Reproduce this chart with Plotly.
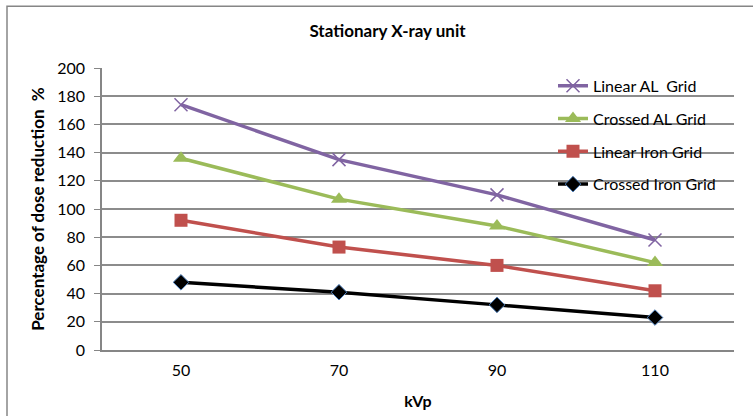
import plotly.graph_objects as go

kvp = ["50", "70", "90", "110"]
linear_al = [174, 135, 110, 78]
crossed_al = [136, 107, 88, 62]
linear_iron = [92, 73, 60, 42]
crossed_iron = [48, 41, 32, 23]
y_ticks = [0, 20, 40, 60, 80, 100, 120, 140, 160, 180, 200]

FONT = "Lato, Carlito, Liberation Sans, sans-serif"

series = [
    ("Linear AL  Grid", linear_al, "#8064A2", dict(symbol="x-thin", size=13, line=dict(color="#8064A2", width=1.5))),
    ("Crossed AL Grid", crossed_al, "#9BBB59", dict(symbol="triangle-up", size=14, color="#9BBB59")),
    ("Linear Iron Grid", linear_iron, "#C0504D", dict(symbol="square", size=13, color="#C0504D")),
    ("Crossed Iron Grid", crossed_iron, "#000000", dict(symbol="diamond", size=12, color="#000000", line=dict(color="#4F81BD", width=1))),
]

fig = go.Figure()
for i, (name, vals, col, mk) in enumerate(series):
    fig.add_trace(go.Scatter(
        x=kvp, y=vals, name=name, mode="lines+markers",
        line=dict(color=col, width=3.5), marker=mk, legendgroup=f"g{i}",
    ))

fig.update_layout(
    width=753, height=416,
    margin=dict(l=102, r=19, t=68, b=66),
    paper_bgcolor="white", plot_bgcolor="white",
    font=dict(family=FONT, size=15, color="#000000"),
    title=dict(text="<b>Stationary X-ray unit</b>", x=(387.5 - 102) / 632, xref="paper",
               xanchor="center", y=1 - 31 / 416, yref="container", yanchor="middle",
               font=dict(size=17)),
    showlegend=True,
    legend=dict(x=(553 - 102) / 632, y=(349.7 - 68.5) / 282, xanchor="left", yanchor="top",
                bgcolor="rgba(0,0,0,0)", font=dict(size=16), tracegroupgap=9,
                itemwidth=30),
    xaxis=dict(type="category", range=[-0.5, 3.5], showgrid=False, automargin=False,
               showline=True, linecolor="#868686", linewidth=1.5,
               ticks="outside", ticklen=5, tickcolor="rgba(0,0,0,0)", tickfont=dict(size=16),
               title=dict(text="<b>kVp</b>", font=dict(size=16), standoff=18)),
    yaxis=dict(range=[0, 200], tickvals=y_ticks, showgrid=True, gridcolor="#8C8C8C",
               gridwidth=1.5, showline=True, linecolor="#868686", linewidth=1.5,
               ticks="outside", ticklen=6, tickcolor="#868686", tickfont=dict(size=16),
               ticklabelstandoff=6, zeroline=False, automargin=False,
               title=dict(text="<b>Percentage of dose reduction  %</b>", font=dict(size=17), standoff=8)),
    shapes=[dict(type="rect", xref="paper", yref="paper",
                 x0=(7 - 102) / 632, x1=1.08, y0=-0.4, y1=(349.7 - 6) / 282,
                 line=dict(color="#868686", width=1.5), fillcolor="rgba(0,0,0,0)", layer="below")],
)

fig.write_html("out.html")
